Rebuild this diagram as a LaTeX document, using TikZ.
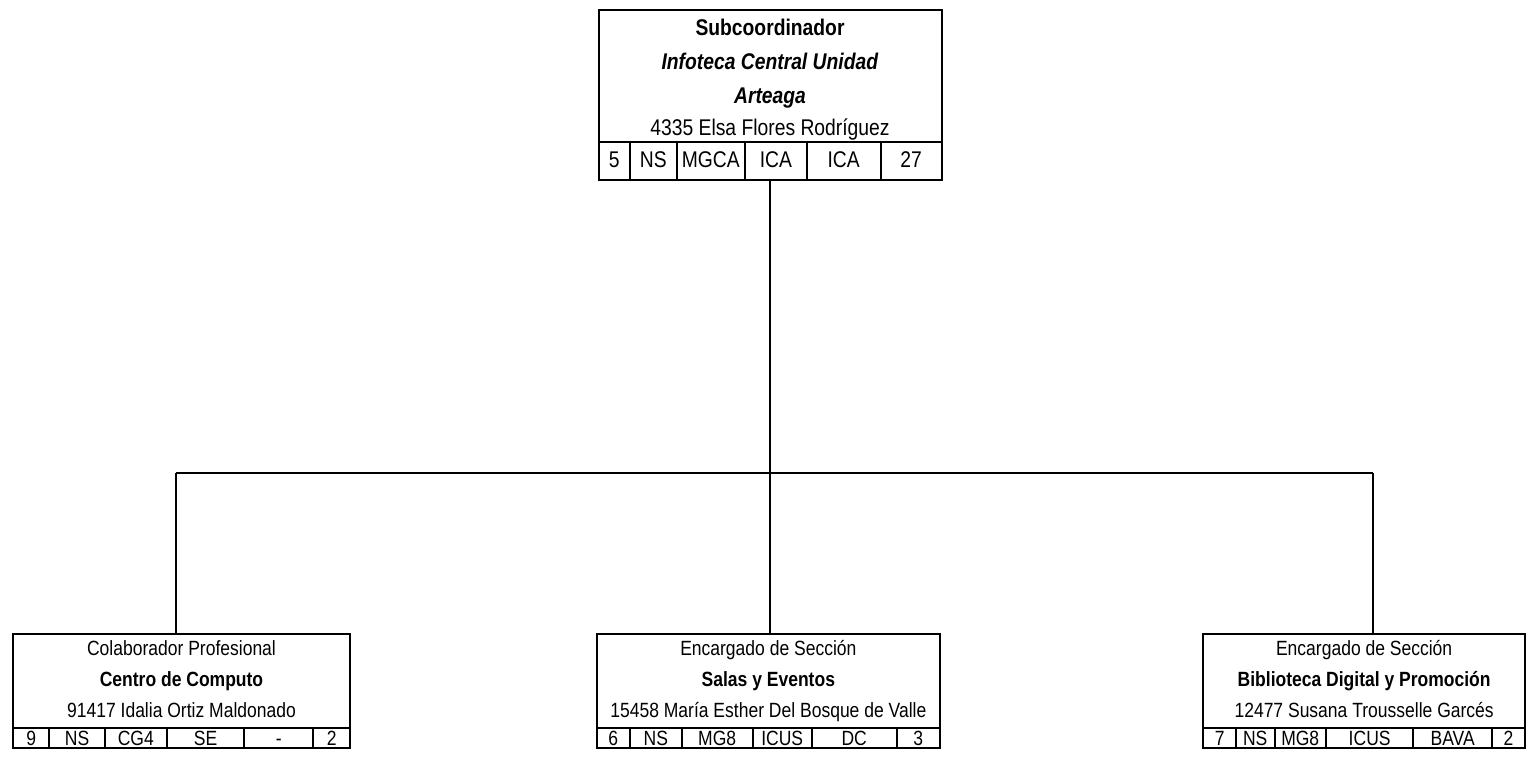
\documentclass[tikz,border=0pt]{standalone}
\usepackage{fontspec}
\setmainfont{Liberation Sans}[FakeStretch=0.85]
\usetikzlibrary{positioning}

\tikzset{
  box/.style={
    draw,
    line width=1pt,
    inner sep=0pt,
    outer sep=0pt
  },
}
\tikzset{
  link/.style={
    line width=1pt
  },
  toptext/.style={
    font=\fontsize{11.35}{13}\selectfont,
    text height=8.13pt,
    text depth=0pt,
    inner sep=0pt
  },
  lowtext/.style={
    font=\fontsize{10.3}{12}\selectfont,
    text height=7.37pt,
    text depth=0pt,
    inner sep=0pt
  },
  topcell/.style={
    box,
    toptext,
    text depth=2pt,
    minimum height=19pt
  },
  lowcell/.style={
    box,
    lowtext,
    minimum height=10pt
  }
}

\begin{document}
\begin{tikzpicture}[x=0.5pt,y=-0.5pt]
    \useasboundingbox (0,0) rectangle (1528,758);

    % Subcoordinador
    \node[box, minimum width=171.5pt, minimum height=85pt] (sub) at (770,95) {};
    \node[toptext] (sub-t1) at (770,27) {\textbf{Subcoordinador}};
    \node[toptext] (sub-t2) at (770,61) {\textbf{\itshape Infoteca Central Unidad}};
    \node[toptext] (sub-t3) at (770,95) {\textbf{\itshape Arteaga}};
    \node[toptext] (sub-t4) at (770,127) {4335 Elsa Flores Rodríguez};
    \node[topcell, minimum width=15.75pt, anchor=north west] (sub-c1) at (598.5,142) {5};
    \node[topcell, minimum width=23.35pt, right=0pt of sub-c1] (sub-c2) {NS};
    \node[topcell, minimum width=34.15pt, right=0pt of sub-c2] (sub-c3) {MGCA};
    \node[topcell, minimum width=30.85pt, right=0pt of sub-c3] (sub-c4) {ICA};
    \node[topcell, minimum width=37pt, right=0pt of sub-c4] (sub-c5) {ICA};
    \node[topcell, minimum width=30.4pt, right=0pt of sub-c5] (sub-c6) {27};

    % Centro de Computo
    \node[box, minimum width=168.5pt, minimum height=57pt] (comp) at (181.5,691) {};
    \node[lowtext] (comp-t1) at (181.5,648) {Colaborador Profesional};
    \node[lowtext] (comp-t2) at (181.5,679) {\textbf{Centro de Computo}};
    \node[lowtext] (comp-t3) at (181.5,710) {91417 Idalia Ortiz Maldonado};
    \node[lowcell, minimum width=18.15pt, anchor=north west] (comp-c1) at (13,728) {9};
    \node[lowcell, minimum width=27.85pt, right=0pt of comp-c1] (comp-c2) {NS};
    \node[lowcell, minimum width=30.85pt, right=0pt of comp-c2] (comp-c3) {CG4};
    \node[lowcell, minimum width=38.8pt, right=0pt of comp-c3] (comp-c4) {SE};
    \node[lowcell, minimum width=34.5pt, right=0pt of comp-c4] (comp-c5) {-};
    \node[lowcell, minimum width=18.35pt, right=0pt of comp-c5] (comp-c6) {2};

    % Salas y Eventos
    \node[box, minimum width=171.65pt, minimum height=57pt] (salas) at (768.35,691) {};
    \node[lowtext] (salas-t1) at (768.35,648) {Encargado de Sección};
    \node[lowtext] (salas-t2) at (768.35,679) {\textbf{Salas y Eventos}};
    \node[lowtext] (salas-t3) at (768.35,710) {15458 María Esther Del Bosque de Valle};
    \node[lowcell, minimum width=16.65pt, anchor=north west] (salas-c1) at (596.7,728) {6};
    \node[lowcell, minimum width=25.85pt, right=0pt of salas-c1] (salas-c2) {NS};
    \node[lowcell, minimum width=35.5pt, right=0pt of salas-c2] (salas-c3) {MG8};
    \node[lowcell, minimum width=29.5pt, right=0pt of salas-c3] (salas-c4) {ICUS};
    \node[lowcell, minimum width=42.5pt, right=0pt of salas-c4] (salas-c5) {DC};
    \node[lowcell, minimum width=21.65pt, right=0pt of salas-c5] (salas-c6) {3};

    % Biblioteca Digital
    \node[box, minimum width=160.85pt, minimum height=57pt] (bib) at (1364.15,691) {};
    \node[lowtext] (bib-t1) at (1364.15,648) {Encargado de Sección};
    \node[lowtext] (bib-t2) at (1364.15,679) {\textbf{Biblioteca Digital y Promoción}};
    \node[lowtext] (bib-t3) at (1364.15,710) {12477 Susana Trousselle Garcés};
    \node[lowcell, minimum width=16.35pt, anchor=north west] (bib-c1) at (1203.3,728) {7};
    \node[lowcell, minimum width=19.25pt, right=0pt of bib-c1] (bib-c2) {NS};
    \node[lowcell, minimum width=25.75pt, right=0pt of bib-c2] (bib-c3) {MG8};
    \node[lowcell, minimum width=43.65pt, right=0pt of bib-c3] (bib-c4) {ICUS};
    \node[lowcell, minimum width=39.35pt, right=0pt of bib-c4] (bib-c5) {BAVA};
    \node[lowcell, minimum width=16.5pt, right=0pt of bib-c5] (bib-c6) {2};

    % connectors
    \coordinate (busL) at (176,473);
    \coordinate (busR) at (1373,473);
    \draw[link] (sub.south) -- (sub.south |- busL);
    \draw[link] (busL) -- (busR);
    \draw[link] (busL) -- (busL |- comp.north);
    \draw[link] (sub.south |- busL) -- (sub.south |- salas.north);
    \draw[link] (busR) -- (busR |- bib.north);
\end{tikzpicture}
\end{document}
